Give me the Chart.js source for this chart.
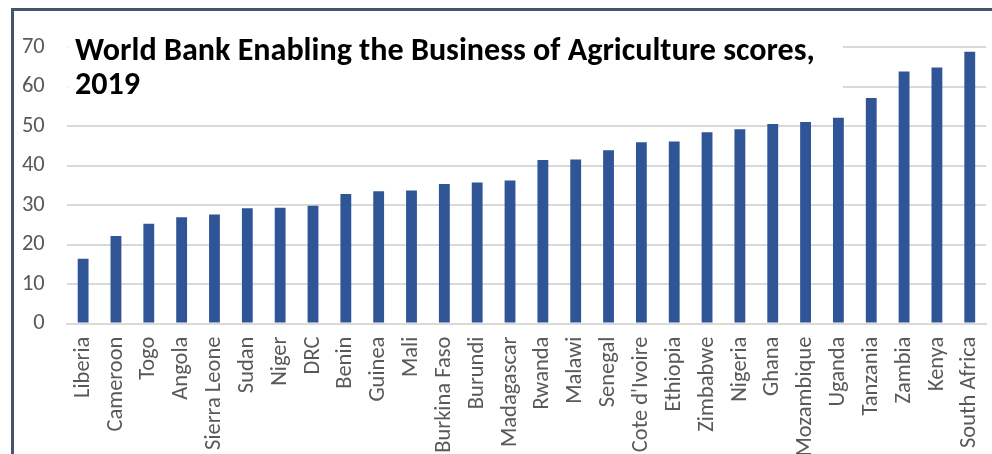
<!DOCTYPE html>
<html>
<head>
<meta charset="utf-8">
<script src="https://cdn.jsdelivr.net/npm/chart.js@4/dist/chart.umd.min.js"></script>
<style>
  html, body { margin: 0; padding: 0; background: #fff; overflow: hidden; }
  #frame {
    position: absolute; left: 11px; top: 8px; width: 1100px; height: 600px;
    border-top: 3px solid #44546a; border-left: 3px solid #44546a;
  }
  #wrap { position: absolute; left: 0; top: 0; width: 1010px; height: 454px; }
</style>
</head>
<body>
<div id="frame"></div>
<div id="wrap"><canvas id="chart" width="1010" height="454"></canvas></div>
<script>
const countries = [
  "Liberia", "Cameroon", "Togo", "Angola", "Sierra Leone", "Sudan", "Niger",
  "DRC", "Benin", "Guinea", "Mali", "Burkina Faso", "Burundi", "Madagascar",
  "Rwanda", "Malawi", "Senegal", "Cote d'Ivoire", "Ethiopia", "Zimbabwe",
  "Nigeria", "Ghana", "Mozambique", "Uganda", "Tanzania", "Zambia", "Kenya",
  "South Africa"
];
const scores = [
  16.4, 22.2, 25.3, 26.9, 27.6, 29.2, 29.3,
  29.8, 32.8, 33.5, 33.7, 35.3, 35.7, 36.2,
  41.4, 41.5, 43.9, 45.9, 46.1, 48.4,
  49.2, 50.5, 51.0, 52.1, 57.1, 63.8, 64.8,
  68.8
];
const titleLines = ["World Bank Enabling the Business of Agriculture scores,", "2019"];

const fontFamily = "Carlito, Calibri, Lato, sans-serif";

// title sits inside the plot on a white box, covering the top gridlines
const boxTitle = {
  id: "boxTitle",
  beforeDatasetsDraw(chart) {
    const ctx = chart.ctx;
    ctx.save();
    ctx.fillStyle = "#fff";
    ctx.fillRect(chart.chartArea.left + 1, 28, 843 - chart.chartArea.left - 1, 84);
    let size = 26;
    ctx.font = `bold ${size}px ${fontFamily}`;
    const w = ctx.measureText(titleLines[0]).width;
    size = size * 740 / w;
    ctx.font = `bold ${size}px ${fontFamily}`;
    ctx.fillStyle = "#000";
    ctx.textBaseline = "alphabetic";
    ctx.fillText(titleLines[0], 75, 60);
    ctx.fillText(titleLines[1], 75, 94);
    ctx.restore();
  },
};

new Chart(document.getElementById("chart"), {
  type: "bar",
  data: {
    labels: countries,
    datasets: [
      {
        data: scores,
        backgroundColor: "#2f5597",
        borderWidth: 0,
        categoryPercentage: 1,
        barPercentage: 0.33,
      },
    ],
  },
  options: {
    responsive: false,
    animation: false,
    layout: { padding: { top: 47, right: 13.5, bottom: 0, left: 0 } },
    plugins: { legend: { display: false }, tooltip: { enabled: false } },
    scales: {
      x: {
        grid: { display: false, drawTicks: false },
        border: { display: true, color: "#d9d9d9", width: 2 },
        ticks: {
          color: "#595959",
          font: { family: fontFamily, size: 22.5 },
          maxRotation: 90,
          minRotation: 90,
          padding: 13,
          autoSkip: false,
        },
        afterFit(scale) { scale.height = 130.4; },
      },
      y: {
        min: 0,
        max: 70,
        grid: { color: "#d9d9d9", lineWidth: 2, drawTicks: false },
        border: { display: false },
        ticks: {
          stepSize: 10,
          color: "#595959",
          font: { family: fontFamily, size: 22.5 },
          padding: 22,
        },
        afterFit(scale) { scale.width = 66.7; },
      },
    },
  },
  plugins: [boxTitle],
});
</script>
</body>
</html>
